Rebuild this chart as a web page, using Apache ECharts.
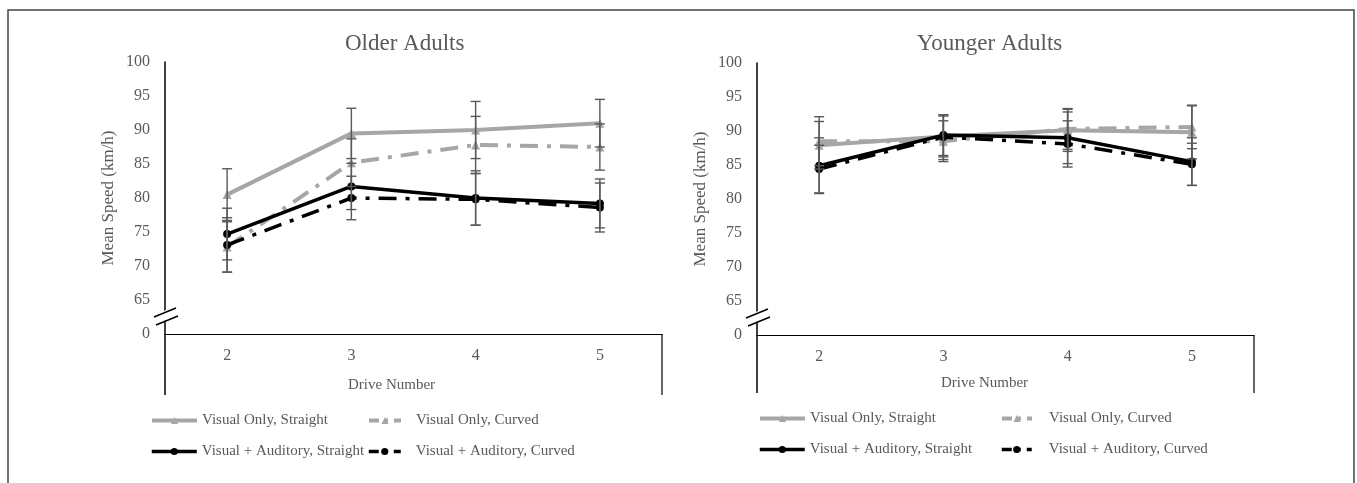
<!DOCTYPE html>
<html>
<head>
<meta charset="utf-8">
<script src="https://cdn.jsdelivr.net/npm/echarts@6/dist/echarts.min.js"></script>
<style>
  html, body { margin: 0; padding: 0; background: #fff; }
  #chart { width: 1357px; height: 483px; }
</style>
</head>
<body>
<div id="chart"></div>
<script>
// drive numbers on the x axis
var drives = ['2', '3', '4', '5'];
// y axis is broken: the bottom tick (60) is shown as "0"
var yMin = 60, yMax = 100, yStep = 5;

var names = ['Visual Only, Straight', 'Visual Only, Curved', 'Visual + Auditory, Straight', 'Visual + Auditory, Curved'];

// older adults: means and error (half-length of bar)
var olderVOS = [80.5, 89.5, 90.0, 91.0];
var olderVOSErr = [3.8, 3.7, 4.2, 3.5];
var olderVOC = [72.8, 85.2, 87.8, 87.5];
var olderVOCErr = [3.7, 3.5, 4.2, 3.4];
var olderVAS = [74.7, 81.7, 80.0, 79.2];
var olderVASErr = [3.8, 3.4, 4.0, 3.6];
var olderVAC = [73.1, 80.0, 79.8, 78.6];
var olderVACErr = [4.0, 3.2, 3.8, 3.6];

// younger adults
var youngerVOS = [87.9, 89.2, 90.1, 89.8];
var youngerVOSErr = [3.5, 3.0, 3.1, 3.9];
var youngerVOC = [88.5, 88.5, 90.3, 90.6];
var youngerVOCErr = [3.6, 3.0, 3.0, 3.2];
var youngerVAS = [84.9, 89.4, 89.0, 85.5];
var youngerVASErr = [4.1, 3.0, 3.8, 3.5];
var youngerVAC = [84.4, 89.1, 88.1, 85.1];
var youngerVACErr = [3.5, 3.3, 3.4, 3.1];

var FONT = '"Liberation Serif", "DejaVu Serif", serif';
var TXT = '#595959';
var GRAY = '#a6a6a6';
var dashDot = [18, 9, 4, 9];

var styles = [
  { color: GRAY, width: 4, type: 'solid', symbol: 'triangle', size: 9 },
  { color: GRAY, width: 4, type: dashDot, symbol: 'triangle', size: 9 },
  { color: '#000', width: 3.5, type: 'solid', symbol: 'circle', size: 8 },
  { color: '#000', width: 3.5, type: dashDot, symbol: 'circle', size: 8 }
];

function lineSeries(idx, data, g) {
  var s = styles[idx];
  return {
    type: 'line', name: names[idx], xAxisIndex: g, yAxisIndex: g,
    data: data, symbol: s.symbol, symbolSize: s.size,
    itemStyle: { color: s.color },
    lineStyle: { color: s.color, width: s.width, type: s.type },
    z: 3, animation: false
  };
}

function errSeries(means, errs, g) {
  return {
    type: 'custom', xAxisIndex: g, yAxisIndex: g, z: 4, animation: false,
    data: means.map(function (m, i) { return [i, m - errs[i], m + errs[i]]; }),
    renderItem: function (params, api) {
      var lo = api.coord([api.value(0), api.value(1)]);
      var hi = api.coord([api.value(0), api.value(2)]);
      var w = 5;
      var st = { stroke: '#595959', lineWidth: 1.4 };
      return {
        type: 'group',
        children: [
          { type: 'line', shape: { x1: lo[0], y1: lo[1], x2: hi[0], y2: hi[1] }, style: st },
          { type: 'line', shape: { x1: lo[0] - w, y1: lo[1], x2: lo[0] + w, y2: lo[1] }, style: st },
          { type: 'line', shape: { x1: hi[0] - w, y1: hi[1], x2: hi[0] + w, y2: hi[1] }, style: st }
        ]
      };
    }
  };
}

function xAxisCfg(g) {
  return {
    type: 'category', gridIndex: g, data: drives,
    axisLine: { lineStyle: { color: '#000', width: 1.2 } },
    axisTick: { show: false },
    axisLabel: { color: TXT, fontFamily: FONT, fontSize: 16, margin: 14 }
  };
}

function yAxisCfg(g) {
  return {
    type: 'value', gridIndex: g, min: yMin, max: yMax, interval: yStep,
    name: 'Mean Speed (km/h)', nameLocation: 'middle', nameGap: 48,
    nameTextStyle: { color: TXT, fontFamily: FONT, fontSize: 17 },
    axisLine: { show: true, lineStyle: { color: '#000', width: 1.5 } },
    axisTick: { show: false },
    splitLine: { show: false },
    axisLabel: {
      color: TXT, fontFamily: FONT, fontSize: 16, margin: 15,
      formatter: function (v) { return v === yMin ? '0' : String(v); }
    }
  };
}

function legendItem(idx, left, top, w, padLeft) {
  var s = styles[idx];
  return {
    data: [names[idx]], left: left, top: top, padding: 0,
    itemWidth: w, itemHeight: 9,
    lineStyle: { width: s.width, type: s.type === 'solid' ? 'solid' : [10, 6, 3, 6] },
    textStyle: { color: TXT, fontFamily: FONT, fontSize: 15, padding: [0, 0, 0, padLeft] }
  };
}

function breakMark(x, y) {
  return [
    { type: 'polygon', shape: { points: [[x - 3, y - 6], [x + 3, y - 9], [x + 3, y + 1], [x - 3, y + 4]] },
      style: { fill: '#fff' }, z: 10 },
    { type: 'line', shape: { x1: x - 11, y1: y - 1, x2: x + 11, y2: y - 10 }, style: { stroke: '#000', lineWidth: 1.5 }, z: 11 },
    { type: 'line', shape: { x1: x - 9, y1: y + 7, x2: x + 13, y2: y - 2 }, style: { stroke: '#000', lineWidth: 1.5 }, z: 11 }
  ];
}

var grids = [
  { left: 165, top: 62, width: 497, height: 272 },
  { left: 757, top: 63, width: 497, height: 272 }
];

var graphics = [
  { type: 'rect', shape: { x: 8, y: 10, width: 1346, height: 490 }, style: { fill: 'none', stroke: '#444', lineWidth: 1.5 }, z: 0 },
  { type: 'line', shape: { x1: 165, y1: 334, x2: 165, y2: 395 }, style: { stroke: '#000', lineWidth: 1.5 } },
  { type: 'line', shape: { x1: 662, y1: 334, x2: 662, y2: 395 }, style: { stroke: '#000', lineWidth: 1.2 } },
  { type: 'line', shape: { x1: 757, y1: 335, x2: 757, y2: 393 }, style: { stroke: '#000', lineWidth: 1.5 } },
  { type: 'line', shape: { x1: 1254, y1: 335, x2: 1254, y2: 393 }, style: { stroke: '#000', lineWidth: 1.2 } }
].concat(breakMark(165, 318)).concat(breakMark(757, 319));

var option = {
  backgroundColor: '#fff',
  animation: false,
  title: [
    { text: 'Older Adults', left: 345, top: 32, padding: 0, textStyle: { color: TXT, fontFamily: FONT, fontSize: 23, fontWeight: 'normal' } },
    { text: 'Younger Adults', left: 917, top: 32, padding: 0, textStyle: { color: TXT, fontFamily: FONT, fontSize: 23, fontWeight: 'normal' } },
    { text: 'Drive Number', left: 348, top: 378, padding: 0, textStyle: { color: TXT, fontFamily: FONT, fontSize: 15, fontWeight: 'normal' } },
    { text: 'Drive Number', left: 941, top: 376, padding: 0, textStyle: { color: TXT, fontFamily: FONT, fontSize: 15, fontWeight: 'normal' } }
  ],
  grid: grids,
  xAxis: [xAxisCfg(0), xAxisCfg(1)],
  yAxis: [yAxisCfg(0), yAxisCfg(1)],
  legend: [
    legendItem(0, 150, 413, 45, 0),
    legendItem(1, 367, 413, 32, 10),
    legendItem(2, 150, 444, 45, 0),
    legendItem(3, 367, 444, 32, 10),
    legendItem(0, 758, 411, 45, 0),
    legendItem(1, 1000, 411, 30, 12),
    legendItem(2, 758, 442, 45, 0),
    legendItem(3, 1000, 442, 30, 12)
  ],
  graphic: graphics,
  series: [
    errSeries(olderVOS, olderVOSErr, 0),
    errSeries(olderVOC, olderVOCErr, 0),
    errSeries(olderVAS, olderVASErr, 0),
    errSeries(olderVAC, olderVACErr, 0),
    lineSeries(0, olderVOS, 0),
    lineSeries(1, olderVOC, 0),
    lineSeries(2, olderVAS, 0),
    lineSeries(3, olderVAC, 0),
    errSeries(youngerVOS, youngerVOSErr, 1),
    errSeries(youngerVOC, youngerVOCErr, 1),
    errSeries(youngerVAS, youngerVASErr, 1),
    errSeries(youngerVAC, youngerVACErr, 1),
    lineSeries(0, youngerVOS, 1),
    lineSeries(1, youngerVOC, 1),
    lineSeries(2, youngerVAS, 1),
    lineSeries(3, youngerVAC, 1)
  ]
};

var myChart = echarts.init(document.getElementById('chart'));
myChart.setOption(option);
</script>
</body>
</html>
